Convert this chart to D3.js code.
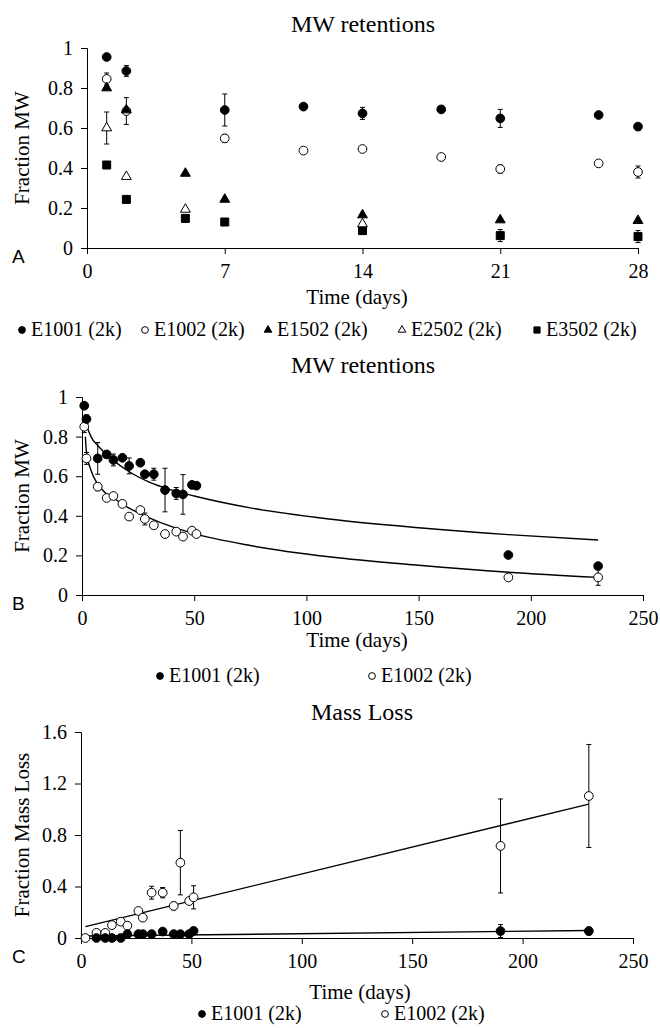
<!DOCTYPE html>
<html>
<head>
<meta charset="utf-8">
<script src="https://cdn.jsdelivr.net/npm/d3@7/dist/d3.min.js"></script>
<style>
	body { margin: 0; background: #fff; }
	svg text { font-family: 'Liberation Serif', 'Times New Roman', serif; fill: #000; }
</style>
</head>
<body>
<div id="chart"></div>
<script>
// ---- panel A: MW retention, first 28 days ----
const e1001A_days = [1, 2, 7, 11, 14, 18, 21, 26, 28];
const e1001A_mw = [0.955, 0.885, 0.69, 0.707, 0.673, 0.693, 0.648, 0.665, 0.607];
const e1001A_err = [0, 0.027, 0.08, 0, 0.03, 0, 0.045, 0, 0];

const e1002A_days = [1, 2, 7, 11, 14, 18, 21, 26, 28];
const e1002A_mw = [0.845, 0.685, 0.548, 0.487, 0.495, 0.455, 0.395, 0.423, 0.38];
const e1002A_err = [0.03, 0.067, 0.02, 0, 0, 0, 0.02, 0, 0.03];

const e1502A_days = [1, 2, 5, 7, 14, 21, 28];
const e1502A_mw = [0.8, 0.69, 0.373, 0.243, 0.165, 0.14, 0.137];

const e2502A_days = [1, 2, 5, 14];
const e2502A_mw = [0.6, 0.357, 0.193, 0.12];
const e2502A_err = [0.08, 0, 0, 0];

const e3502A_days = [1, 2, 5, 7, 14, 21, 28];
const e3502A_mw = [0.415, 0.243, 0.148, 0.13, 0.087, 0.062, 0.057];
const e3502A_err = [0, 0, 0, 0, 0, 0.03, 0.03];

// ---- panel B: MW retention, full study ----
const daysB = [1, 2, 7, 11, 14, 18, 21, 26, 28, 32, 37, 42, 45, 49, 51, 190, 230];
const e1001B_mw = [0.956, 0.889, 0.69, 0.71, 0.682, 0.693, 0.652, 0.668, 0.61, 0.61, 0.53, 0.513, 0.508, 0.556, 0.552, 0.202, 0.146];
const e1001B_err = [0, 0.02, 0.08, 0, 0.03, 0, 0.04, 0, 0, 0.03, 0.11, 0.03, 0.1, 0, 0, 0, 0];
const e1002B_mw = [0.85, 0.69, 0.547, 0.49, 0.5, 0.46, 0.396, 0.429, 0.384, 0.352, 0.308, 0.32, 0.295, 0.325, 0.308, 0.089, 0.089];
const e1002B_err = [0.03, 0.03, 0.02, 0, 0, 0, 0, 0, 0.03, 0, 0, 0, 0, 0, 0, 0, 0.04];

// fitted curves
const fitB_days = [1.5, 2, 4, 7, 10, 14, 20, 30, 40, 50, 75, 110, 150, 190, 230];
const fitB_e1001 = [0.88, 0.86, 0.8, 0.755, 0.72, 0.68, 0.63, 0.57, 0.53, 0.5, 0.44, 0.384, 0.34, 0.305, 0.278];
const fitB_e1002 = [0.8, 0.72, 0.63, 0.56, 0.52, 0.49, 0.445, 0.39, 0.345, 0.31, 0.25, 0.193, 0.15, 0.115, 0.089];

// ---- panel C: mass loss ----
const daysC = [2, 7, 11, 14, 18, 21, 26, 28, 32, 37, 42, 45, 49, 51, 190, 230];
const e1001C_loss = [null, 0, 0, 0, 0, 0.03, 0.03, 0.03, 0.03, 0.05, 0.03, 0.03, 0.03, 0.055, 0.054, 0.054];
const e1001C_err = [0, 0, 0, 0, 0, 0, 0, 0, 0, 0, 0, 0, 0, 0, 0.05, 0.03];
const e1002C_loss = [0, 0.04, 0.04, 0.1, 0.127, 0.096, 0.21, 0.158, 0.352, 0.352, 0.249, 0.585, 0.287, 0.316, 0.715, 1.103];
const e1002C_err = [0, 0, 0, 0, 0, 0, 0, 0, 0.05, 0.04, 0.03, 0.25, 0, 0.09, 0.365, 0.4];

const fitC_days = [2, 230];
const fitC_e1001 = [0.015, 0.058];
const fitC_e1002 = [0.088, 1.04];

// tick labels
const ticksA_x = [0, 7, 14, 21, 28];
const ticksMW_y = [0, 0.2, 0.4, 0.6, 0.8, 1];
const ticksLong_x = [0, 50, 100, 150, 200, 250];
const ticksLoss_y = [0, 0.4, 0.8, 1.2, 1.6];

const serif = "'Liberation Serif', 'Times New Roman', serif";

function zipSeries(days, vals, errs) {
	return days
		.map((d, i) => ({ t: d, v: vals[i], e: errs ? errs[i] : 0 }))
		.filter((d) => d.v != null);
}

const shapes = {
	circle: { type: d3.symbolCircle, size: 60, fill: '#000' },
	openCircle: { type: d3.symbolCircle, size: 60, fill: '#fff' },
	triangle: { type: d3.symbolTriangle, size: 42, fill: '#000' },
	openTriangle: { type: d3.symbolTriangle, size: 42, fill: '#fff' },
	square: { type: d3.symbolSquare, size: 64, fill: '#000' }
};

const svg = d3.select('#chart').append('svg').attr('width', 660).attr('height', 1028);

function drawPanel(p) {
	const x = d3.scaleLinear().domain(p.xDomain).range([p.left, p.right]);
	const y = d3.scaleLinear().domain(p.yDomain).range([p.bottom, p.top]);
	const g = svg.append('g');

	// title
	g.append('text')
		.attr('x', p.titleX)
		.attr('y', p.titleY)
		.attr('text-anchor', 'middle')
		.style('font-size', '24px')
		.text(p.title);

	// axes
	const fmt = (d) => String(+d.toFixed(1));
	const yAxis = g.append('g')
		.attr('transform', `translate(${p.left},0)`)
		.call(d3.axisLeft(y).tickValues(p.yTicks).tickSizeOuter(0).tickSize(6).tickPadding(8).tickFormat(fmt));
	const xAxis = g.append('g')
		.attr('transform', `translate(0,${p.bottom})`)
		.call(d3.axisBottom(x).tickValues(p.xTicks).tickSizeOuter(0).tickSize(6).tickPadding(10).tickFormat(fmt));
	[yAxis, xAxis].forEach((a) => {
		a.attr('font-family', serif).attr('font-size', 20);
		a.selectAll('path, line').attr('stroke', '#000').attr('stroke-width', 1);
		a.selectAll('text').style('font-family', serif).style('font-size', '20px').attr('fill', '#000');
	});

	// axis labels
	g.append('text')
		.attr('transform', `translate(${p.yLabelX},${(p.top + p.bottom) / 2}) rotate(-90)`)
		.attr('text-anchor', 'middle')
		.style('font-size', '21px')
		.text(p.yLabel);
	g.append('text')
		.attr('x', p.xLabelX)
		.attr('y', p.xLabelY)
		.attr('text-anchor', 'middle')
		.style('font-size', '21px')
		.text('Time (days)');

	// panel letter
	g.append('text')
		.attr('x', 12)
		.attr('y', p.letterY)
		.style('font-family', "'Liberation Sans', Arial, sans-serif")
		.style('font-size', '19px')
		.text(p.letter);

	// fit lines
	const line = d3.line()
		.curve(p.curve || d3.curveLinear)
		.x((d) => x(d.t))
		.y((d) => y(d.v));
	p.fits.forEach((f) => {
		g.append('path')
			.datum(zipSeries(f.days, f.vals))
			.attr('fill', 'none')
			.attr('stroke', '#000')
			.attr('stroke-width', 1.4)
			.attr('d', line);
	});

	// error bars then markers
	p.series.forEach((s) => {
		const pts = zipSeries(s.days, s.vals, s.errs);
		const bars = g.append('g').selectAll('g').data(pts.filter((d) => d.e > 0)).enter().append('g');
		bars.append('line')
			.attr('x1', (d) => x(d.t)).attr('x2', (d) => x(d.t))
			.attr('y1', (d) => y(d.v - d.e)).attr('y2', (d) => y(d.v + d.e))
			.attr('stroke', '#000').attr('stroke-width', 1);
		[-1, 1].forEach((k) => {
			bars.append('line')
				.attr('x1', (d) => x(d.t) - 2.5).attr('x2', (d) => x(d.t) + 2.5)
				.attr('y1', (d) => y(d.v + k * d.e)).attr('y2', (d) => y(d.v + k * d.e))
				.attr('stroke', '#000').attr('stroke-width', 1);
		});
	});
	p.series.forEach((s) => {
		const sh = shapes[s.shape];
		g.append('g').selectAll('path')
			.data(zipSeries(s.days, s.vals, s.errs))
			.enter()
			.append('path')
			.attr('transform', (d) => `translate(${x(d.t)},${y(d.v)})`)
			.attr('d', d3.symbol().type(sh.type).size(sh.size))
			.attr('fill', sh.fill)
			.attr('stroke', '#000')
			.attr('stroke-width', 1);
	});

	// legend
	const leg = g.append('g').selectAll('g').data(p.legend).enter().append('g')
		.attr('transform', (d) => `translate(${d.x},${p.legendY})`);
	leg.append('path')
		.attr('transform', 'translate(0,-6)')
		.attr('d', (d) => d3.symbol().type(shapes[d.shape].type).size(shapes[d.shape].size * 0.6)())
		.attr('fill', (d) => shapes[d.shape].fill)
		.attr('stroke', '#000');
	leg.append('text')
		.attr('x', 9)
		.style('font-size', '20px')
		.text((d) => d.label);
}

drawPanel({
	left: 87, right: 638, top: 48, bottom: 248,
	xDomain: [0, 28], yDomain: [0, 1], xTicks: ticksA_x, yTicks: ticksMW_y,
	title: 'MW retentions', titleX: 363, titleY: 32,
	yLabel: 'Fraction MW', yLabelX: 29, xLabelX: 357, xLabelY: 304,
	letter: 'A', letterY: 263,
	fits: [],
	series: [
		{ days: e3502A_days, vals: e3502A_mw, errs: e3502A_err, shape: 'square' },
		{ days: e2502A_days, vals: e2502A_mw, errs: e2502A_err, shape: 'openTriangle' },
		{ days: e1002A_days, vals: e1002A_mw, errs: e1002A_err, shape: 'openCircle' },
		{ days: e1502A_days, vals: e1502A_mw, shape: 'triangle' },
		{ days: e1001A_days, vals: e1001A_mw, errs: e1001A_err, shape: 'circle' }
	],
	legendY: 336,
	legend: [
		{ x: 22, shape: 'circle', label: 'E1001 (2k)' },
		{ x: 145, shape: 'openCircle', label: 'E1002 (2k)' },
		{ x: 268, shape: 'triangle', label: 'E1502 (2k)' },
		{ x: 402, shape: 'openTriangle', label: 'E2502 (2k)' },
		{ x: 537, shape: 'square', label: 'E3502 (2k)' }
	]
});

drawPanel({
	left: 82, right: 643, top: 397, bottom: 595,
	xDomain: [0, 250], yDomain: [0, 1], xTicks: ticksLong_x, yTicks: ticksMW_y,
	title: 'MW retentions', titleX: 363, titleY: 373,
	yLabel: 'Fraction MW', yLabelX: 29, xLabelX: 357, xLabelY: 647,
	letter: 'B', letterY: 610,
	curve: d3.curveMonotoneX,
	fits: [
		{ days: fitB_days, vals: fitB_e1001 },
		{ days: fitB_days, vals: fitB_e1002 }
	],
	series: [
		{ days: daysB, vals: e1002B_mw, errs: e1002B_err, shape: 'openCircle' },
		{ days: daysB, vals: e1001B_mw, errs: e1001B_err, shape: 'circle' }
	],
	legendY: 682,
	legend: [
		{ x: 160, shape: 'circle', label: 'E1001 (2k)' },
		{ x: 372, shape: 'openCircle', label: 'E1002 (2k)' }
	]
});

drawPanel({
	left: 81, right: 633, top: 732, bottom: 938,
	xDomain: [0, 250], yDomain: [0, 1.6], xTicks: ticksLong_x, yTicks: ticksLoss_y,
	title: 'Mass Loss', titleX: 362, titleY: 720,
	yLabel: 'Fraction Mass Loss', yLabelX: 29, xLabelX: 360, xLabelY: 999,
	letter: 'C', letterY: 963,
	fits: [
		{ days: fitC_days, vals: fitC_e1002 },
		{ days: fitC_days, vals: fitC_e1001 }
	],
	series: [
		{ days: daysC, vals: e1002C_loss, errs: e1002C_err, shape: 'openCircle' },
		{ days: daysC, vals: e1001C_loss, errs: e1001C_err, shape: 'circle' }
	],
	legendY: 1020,
	legend: [
		{ x: 202, shape: 'circle', label: 'E1001 (2k)' },
		{ x: 385, shape: 'openCircle', label: 'E1002 (2k)' }
	]
});
</script>
</body>
</html>
